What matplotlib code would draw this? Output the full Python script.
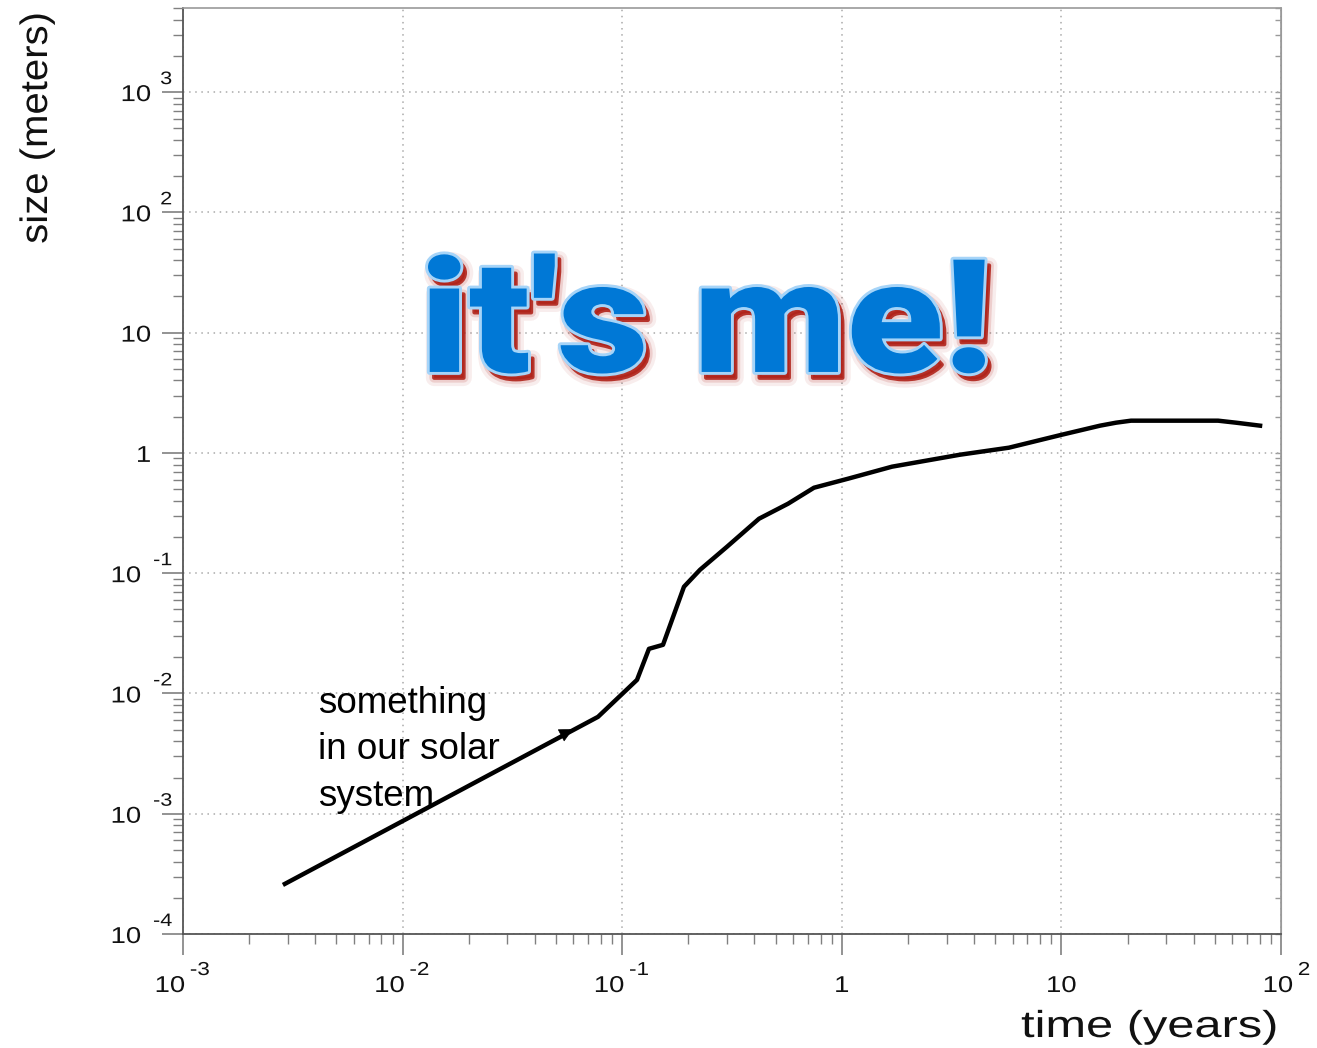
import numpy as np
import matplotlib
matplotlib.use('Agg')
import matplotlib.pyplot as plt
from matplotlib import patheffects
from matplotlib.transforms import Affine2D, blended_transform_factory
from matplotlib.textpath import TextPath
from matplotlib.font_manager import FontProperties
from matplotlib.ticker import LogLocator, NullFormatter

# growth curve: size vs time
time_years = [0.00291, 0.0776, 0.1168, 0.1324, 0.1534, 0.1911, 0.2261, 0.300,
              0.4198, 0.569, 0.747, 1.067, 1.692, 3.454, 5.77, 10.06, 14.99,
              17.73, 20.75, 51.7, 62.4, 80.3]
size_m = [2.61e-4, 6.39e-3, 0.01297, 0.0235, 0.02537, 0.0771, 0.1067, 0.1658,
          0.2836, 0.3779, 0.5134, 0.610, 0.768, 0.966, 1.105, 1.417, 1.684,
          1.783, 1.853, 1.853, 1.783, 1.684]

# direction arrow on the early part of the curve
arrow_tail = (0.0447, 3.83e-3)
arrow_tip = (0.0597, 5.05e-3)

x_ticks = [1e-3, 1e-2, 1e-1, 1, 10, 100]
x_base = ['10', '10', '10', '1', '10', '10']
x_exp = ['-3', '-2', '-1', '', '', '2']

y_ticks = [1e-4, 1e-3, 1e-2, 1e-1, 1, 10, 1e2, 1e3]
y_base = ['10', '10', '10', '10', '1', '10', '10', '10']
y_exp = ['-4', '-3', '-2', '-1', '', '', '2', '3']

note_text = 'something\nin our solar\nsystem'
banner_text = "it's me!"


class Stretched(patheffects.AbstractPathEffect):
    """Scale the drawn glyph outline about a point of its own ink box."""

    def __init__(self, inner, sx=1.0, sy=1.0, fx=0.0, fy=0.0):
        super().__init__()
        self.inner = inner
        self.sx, self.sy = sx, sy
        self.fx, self.fy = fx, fy

    def draw_path(self, renderer, gc, tpath, affine, rgbFace=None):
        box = tpath.get_extents(affine)
        px = box.x0 + self.fx * box.width
        py = box.y0 + self.fy * box.height
        warp = Affine2D().translate(-px, -py).scale(self.sx, self.sy).translate(px, py)
        self.inner.draw_path(renderer, gc, tpath, affine + warp, rgbFace)


def stretch(sx=1.0, sy=1.0, fx=0.0, fy=0.0, layers=None):
    layers = layers or [patheffects.Normal()]
    return [Stretched(p, sx, sy, fx, fy) for p in layers]


W, H = 1317, 1048
fig = plt.figure(figsize=(W / 100, H / 100), dpi=100)
ax = fig.add_axes([183 / W, 1 - 934 / H, (1281 - 183) / W, (934 - 8) / H])
ax.set_xscale('log')
ax.set_yscale('log')
ax.set_xlim(1e-3, 1e2)
ax.set_ylim(1e-4, 5e3)

ax.plot(time_years, size_m, color='black', lw=3.2, solid_joinstyle='round', zorder=3)
ax.annotate('', xy=arrow_tip, xytext=arrow_tail,
            arrowprops=dict(arrowstyle='-|>,head_length=0.6,head_width=0.3',
                            color='black', lw=0.5, shrinkA=0, shrinkB=0,
                            mutation_scale=15), zorder=4)

# axes frame, ticks and grid
ax.set_xticks(x_ticks)
ax.set_yticks(y_ticks)
ax.xaxis.set_minor_locator(LogLocator(base=10, subs=np.arange(2, 10), numticks=20))
ax.yaxis.set_minor_locator(LogLocator(base=10, subs=np.arange(2, 10), numticks=20))
ax.set_xticklabels([])
ax.set_yticklabels([])
ax.xaxis.set_minor_formatter(NullFormatter())
ax.yaxis.set_minor_formatter(NullFormatter())
ax.tick_params(which='major', direction='out', length=15, width=1.2, color='#808080')
ax.tick_params(which='minor', direction='out', length=7, width=1.0, color='#808080')
ax.grid(True, which='major', ls=(0, (1, 3)), color='#aaaaaa', lw=1.1)
for side in ['left', 'bottom']:
    ax.spines[side].set_color('#555555')
    ax.spines[side].set_linewidth(1.3)
for side in ['top', 'right']:
    ax.spines[side].set_color('#9a9a9a')
    ax.spines[side].set_linewidth(1.2)

sec = ax.secondary_yaxis('right')
sec.tick_params(which='both', direction='in', length=4, width=1.0, color='#9a9a9a')
sec.set_yticks(y_ticks)
sec.set_yticklabels([])
sec.yaxis.set_minor_formatter(NullFormatter())
sec.spines['right'].set_color('#9a9a9a')

# tick labels in "10 ^exp" form, drawn a little wide
lab = dict(family='Liberation Sans', color='#111111')
wide = 1.2
xtrans = blended_transform_factory(ax.transData, ax.transAxes)
for t, b, e in zip(x_ticks, x_base, x_exp):
    if e:
        shift = 0 if e.startswith('-') else 10
        ax.annotate(e, xy=(t, 0), xycoords=xtrans, xytext=(7 + shift, -41),
                    textcoords='offset pixels', ha='left', va='baseline',
                    fontsize=13.5, path_effects=stretch(wide, fx=0), **lab)
        ax.annotate(b, xy=(t, 0), xycoords=xtrans, xytext=(2 + shift, -58),
                    textcoords='offset pixels', ha='right', va='baseline',
                    fontsize=16.5, path_effects=stretch(wide, fx=1), **lab)
    else:
        ax.annotate(b, xy=(t, 0), xycoords=xtrans, xytext=(0, -58),
                    textcoords='offset pixels', ha='center', va='baseline',
                    fontsize=16.5, path_effects=stretch(wide, fx=0.5), **lab)

ytrans = blended_transform_factory(ax.transAxes, ax.transData)
for t, b, e in zip(y_ticks, y_base, y_exp):
    shift = 10 if e.startswith('-') else 0
    if e:
        ax.annotate(e, xy=(0, t), xycoords=ytrans, xytext=(-11, 8),
                    textcoords='offset pixels', ha='right', va='baseline',
                    fontsize=13, path_effects=stretch(wide, fx=1), **lab)
    ax.annotate(b, xy=(0, t), xycoords=ytrans, xytext=(-32 - shift, -9),
                textcoords='offset pixels', ha='right', va='baseline',
                fontsize=16.5, path_effects=stretch(wide, fx=1), **lab)

fig.text(1278 / W, 1 - 1037 / H, 'time (years)', ha='right', va='baseline',
         fontsize=27, path_effects=stretch(1.3, fx=1), **lab)
fig.text(37 / W, 1 - 12 / H, 'size (meters)', rotation=90, ha='center', va='top',
         fontsize=27.5, path_effects=stretch(1.0, 1.05, fx=0.5, fy=1), **lab)

fig.text(318 / W, 1 - 686 / H, note_text, ha='left', va='top', fontsize=26.5,
         linespacing=1.42, family='Liberation Sans', color='black')

# big banner: heavy font squeezed to the box, light outline, red soft shadow
fp = FontProperties(family='Roboto', weight=900)
tp = TextPath((0, 0), banner_text, size=100, prop=fp)
ext = tp.get_extents()
ink_left, ink_right, ink_top, baseline = 428, 985, 257, 372
fs_px = (baseline - ink_top) / (ext.y1 / 100)
sx = (ink_right - ink_left) / (ext.width / 100 * fs_px)
anchor_x = ink_left - ext.x0 / 100 * fs_px

red = '#b0231a'
shadow_off = (3.2, -4.2)
layers = [
    patheffects.SimplePatchShadow(offset=shadow_off, shadow_rgbFace=red, alpha=0.08,
                                  linewidth=12, foreground=red),
    patheffects.SimplePatchShadow(offset=shadow_off, shadow_rgbFace=red, alpha=0.15,
                                  linewidth=7, foreground=red),
    patheffects.SimplePatchShadow(offset=shadow_off, shadow_rgbFace=red, alpha=0.9,
                                  linewidth=3, foreground=red),
    patheffects.Stroke(linewidth=4.2, foreground='#a6d4f8'),
    patheffects.Normal(),
]
fig.text(anchor_x / W, 1 - baseline / H, banner_text, ha='left', va='baseline',
         fontsize=fs_px * 0.72, family='Roboto', fontweight=900, color='#0078d6',
         path_effects=stretch(sx, 1.03, fx=0, fy=0, layers=layers))

fig.savefig('out.png', dpi=100)
